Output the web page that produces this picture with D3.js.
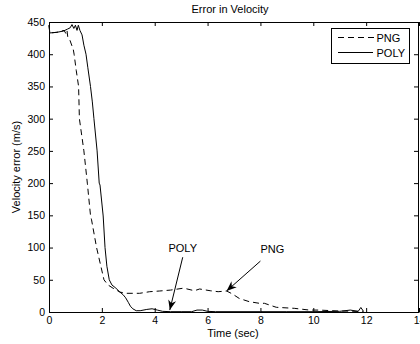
<!DOCTYPE html>
<html>
<head>
<meta charset="utf-8">
<script src="https://cdn.jsdelivr.net/npm/d3@7"></script>
<style>
  body { margin: 0; background: #fff; }
  svg { display: block; }
  text { font-family: "Liberation Sans", Arial, sans-serif; fill: #000; }
</style>
</head>
<body>
<div id="chart"></div>
<script>
// Error in Velocity - PNG vs POLY guidance
// values

// PNG (dashed)
const pngTime = [0, 0.03, 0.3, 0.57, 0.64, 0.68, 0.71, 0.79, 0.92, 0.95, 1.03, 1.12, 1.15, 1.32, 1.45, 1.57, 1.61, 1.80, 2.08, 2.23, 2.42, 2.68, 2.9, 3.2, 3.43, 3.81, 4.19, 4.6, 5.06, 5.2, 5.5, 5.7, 6.1, 6.4, 6.72, 6.94, 7.2, 7.58, 7.96, 8.15, 8.6, 9.28, 9.85, 10.2, 11.0, 11.7, 11.9];
const pngErr  = [445, 433, 434, 437, 432, 437, 427, 422, 407, 400, 375, 350, 300, 250, 200, 150, 143, 100, 50, 42, 37, 31, 29, 29, 29, 31.5, 32.6, 34, 36.8, 36, 33, 35.7, 33, 31.5, 32.6, 28, 21, 16, 13.5, 13.5, 7.3, 5.7, 3, 3, 1.5, 1, 1];

// POLY (solid)
const polyTime = [0, 0.03, 0.3, 0.55, 0.7, 0.8, 0.87, 0.94, 1.0, 1.06, 1.11, 1.17, 1.25, 1.32, 1.40, 1.47, 1.57, 1.64, 1.70, 1.82, 1.90, 1.93, 2.05, 2.12, 2.19, 2.28, 2.38, 2.53, 2.68, 2.80, 2.90, 3.00, 3.08, 3.17, 3.30, 3.45, 3.70, 3.90, 4.10, 4.30, 4.6, 5.0, 5.4, 5.6, 5.8, 6.0, 6.3, 7.0, 8.0, 9.0, 10.0, 11.0, 11.4, 11.7, 11.8, 11.9];
const polyErr  = [445, 433, 434, 436, 439, 441, 446, 440, 445, 437, 445, 437, 430, 414, 400, 379, 350, 326, 300, 250, 200, 197, 149, 100, 71, 50, 42, 37, 31, 27, 22, 15, 9, 5, 2, 2, 4, 5, 3, 1, 0.5, 0.5, 0.5, 3, 3, 1, 0.5, 0.5, 0.5, 0.5, 0.5, 1, 3, 1, 7, 1];

const xTicks = [0, 2, 4, 6, 8, 10, 12, 14];
const yTicks = [0, 50, 100, 150, 200, 250, 300, 350, 400, 450];

// arrow annotations, in data units: [label, labelT, labelV, tailT, tailV, headT, headV]
const notes = [
  ["POLY", 5.06, 93, 5.06, 85, 4.57, 3],
  ["PNG", 8.45, 91, 8.0, 79, 6.72, 32.6]
];

const width = 420, height = 344;
const margin = { top: 22, right: 1, bottom: 32, left: 49 };

const svg = d3.select("#chart").append("svg")
  .attr("width", width)
  .attr("height", height);

const x = d3.scaleLinear().domain([0, 14]).range([margin.left, width - margin.right]);
const y = d3.scaleLinear().domain([0, 450]).range([height - margin.bottom, margin.top]);

const x0 = x(0), x1 = x(14), y0 = y(0), y1 = y(450);

// axes, ticks inward like MATLAB
svg.append("g")
  .attr("transform", `translate(0, ${y0})`)
  .call(d3.axisBottom(x).tickValues(xTicks).tickSizeInner(-4).tickSizeOuter(0).tickPadding(4.5))
  .call(g => g.selectAll("text").style("font-size", "10.5px").style("font-family", "Liberation Sans, Arial, sans-serif"));

svg.append("g")
  .attr("transform", `translate(0, ${y1})`)
  .call(d3.axisTop(x).tickValues(xTicks).tickSizeInner(-4).tickSizeOuter(0).tickFormat(""));

svg.append("g")
  .attr("transform", `translate(${x0}, 0)`)
  .call(d3.axisLeft(y).tickValues(yTicks).tickSizeInner(-4).tickSizeOuter(0).tickPadding(4))
  .call(g => g.selectAll("text").style("font-size", "10.5px").style("font-family", "Liberation Sans, Arial, sans-serif"));

svg.append("g")
  .attr("transform", `translate(${x1 - 1}, 0)`)
  .call(d3.axisRight(y).tickValues(yTicks).tickSizeInner(-4).tickSizeOuter(0).tickFormat(""));

// lines
const line = d3.line().x(d => x(d[0])).y(d => y(d[1]));

svg.append("path")
  .datum(d3.zip(pngTime, pngErr))
  .attr("fill", "none")
  .attr("stroke", "#000")
  .attr("stroke-width", 1)
  .attr("stroke-dasharray", "6,4")
  .attr("d", line);

svg.append("path")
  .datum(d3.zip(polyTime, polyErr))
  .attr("fill", "none")
  .attr("stroke", "#000")
  .attr("stroke-width", 1)
  .attr("d", line);

// title and labels
svg.append("text")
  .attr("x", 230).attr("y", 13)
  .attr("text-anchor", "middle")
  .style("font-size", "11px")
  .text("Error in Velocity");

svg.append("text")
  .attr("x", (x0 + x1) / 2 - 1).attr("y", 337)
  .attr("text-anchor", "middle")
  .style("font-size", "11px")
  .text("Time (sec)");

svg.append("text")
  .attr("transform", `translate(20, ${(y0 + y1) / 2}) rotate(-90)`)
  .attr("text-anchor", "middle")
  .style("font-size", "11px")
  .text("Velocity error (m/s)");

// arrows
const defs = svg.append("defs");
defs.append("marker")
  .attr("id", "head")
  .attr("viewBox", "0 0 10 10")
  .attr("refX", 10).attr("refY", 5)
  .attr("markerWidth", 10).attr("markerHeight", 10)
  .attr("markerUnits", "userSpaceOnUse")
  .attr("orient", "auto")
  .append("path")
  .attr("d", "M0,1 L10,5 L0,9 L3,5 Z")
  .attr("fill", "#000");

notes.forEach(n => {
  svg.append("line")
    .attr("x1", x(n[3])).attr("y1", y(n[4]))
    .attr("x2", x(n[5])).attr("y2", y(n[6]))
    .attr("stroke", "#000")
    .attr("stroke-width", 1)
    .attr("marker-end", "url(#head)");
  svg.append("text")
    .attr("x", x(n[1])).attr("y", y(n[2]))
    .attr("text-anchor", "middle")
    .style("font-size", "11px")
    .text(n[0]);
});

// legend
const legend = svg.append("g").attr("transform", "translate(331, 28)");
legend.append("rect")
  .attr("x", 0.5).attr("y", 0.5)
  .attr("width", 78).attr("height", 35)
  .attr("fill", "#fff")
  .attr("stroke", "#000");

legend.append("line")
  .attr("x1", 7).attr("x2", 44).attr("y1", 9.5).attr("y2", 9.5)
  .attr("stroke", "#000").attr("stroke-dasharray", "6,4");
legend.append("text")
  .attr("x", 45.5).attr("y", 14)
  .style("font-size", "11px")
  .text("PNG");

legend.append("line")
  .attr("x1", 7).attr("x2", 42).attr("y1", 24.5).attr("y2", 24.5)
  .attr("stroke", "#000");
legend.append("text")
  .attr("x", 45.5).attr("y", 29)
  .style("font-size", "11px")
  .text("POLY");
</script>
</body>
</html>
